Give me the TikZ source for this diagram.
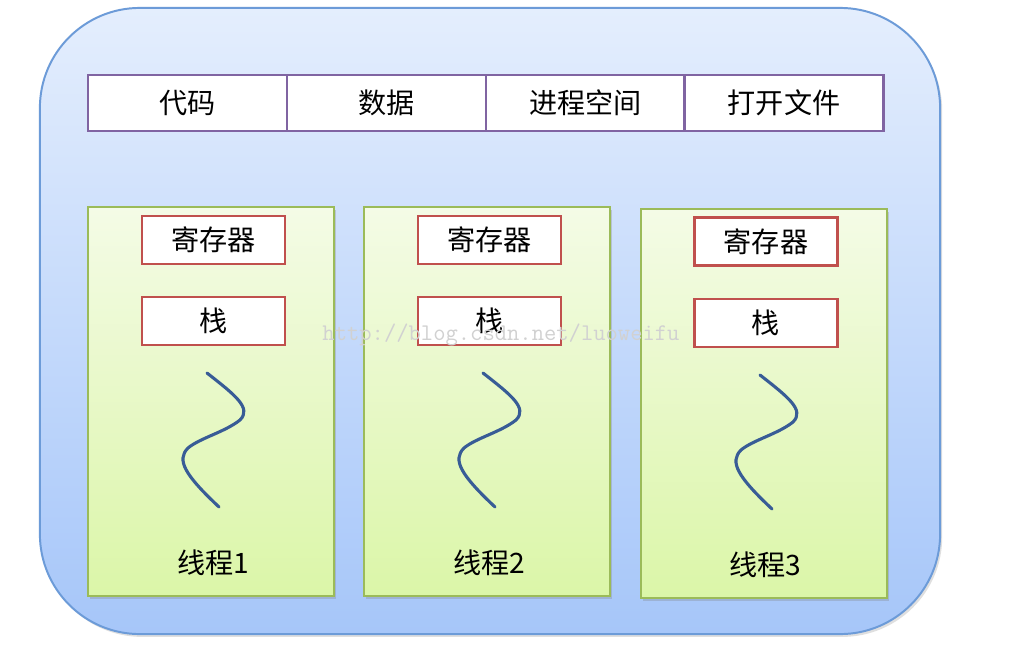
\documentclass[tikz,border=0pt]{standalone}
\usepackage{fontspec}
\setmainfont{Noto Sans CJK SC}
\usepackage{tikz}
\usetikzlibrary{shadows}
\usepackage{xcolor}
\definecolor{procline}{RGB}{108,155,216}
\definecolor{proctop}{RGB}{228,238,253}
\definecolor{procbot}{RGB}{166,198,249}
\definecolor{cellline}{RGB}{128,100,162}
\definecolor{thline}{RGB}{155,187,89}
\definecolor{thtop}{RGB}{244,251,230}
\definecolor{thbot}{RGB}{219,246,168}
\definecolor{regline}{RGB}{192,80,77}
\definecolor{waveblue}{RGB}{56,92,150}
\newcommand{\cnfont}{\fontsize{20}{24}\selectfont}

\begin{document}
\begin{tikzpicture}[
  x=0.025cm, y=-0.025cm,
  proc/.style={draw=procline, line width=1.4pt, rounded corners=2.5cm, top color=proctop, bottom color=procbot,
    minimum width=22.5cm, minimum height=15.65cm, drop shadow={shadow xshift=1.5pt, shadow yshift=-2pt, opacity=0.25}},
  cell/.style={draw=cellline, line width=2pt, fill=white, minimum width=4.975cm, minimum height=1.4cm, font=\cnfont},
  thread/.style={draw=thline, line width=1.2pt, top color=thtop, bottom color=thbot, minimum width=6.15cm, minimum height=9.725cm,
    drop shadow={shadow xshift=1.5pt, shadow yshift=-2pt, opacity=0.3}},
  reg/.style={draw=regline, line width=2pt, fill=white, minimum width=3.575cm, minimum height=1.2cm, font=\cnfont},
  lbl/.style={font=\cnfont},
  wmark/.style={font=\ttfamily\fontsize{17}{20}\selectfont, text=black!18},
  threadwave/.pic={
    \draw[waveblue, line width=2.2pt, line cap=round] (-4,-28.5) .. controls (24,-6.5) and (41,6.5) .. (29,18.5)
      .. controls (14,30.5) and (-11,36.5) .. (-23,46.5) .. controls (-35,58.5) and (-26,73.5) .. (8,105.5);
  },
]
\useasboundingbox[fill=white] (0,0) rectangle (1013,670);
\node[proc] (proc) at (490,321) {};
% shared part
\node[cell] (code) at (187.5,103) {代码};
\node[cell] (data) at (386.5,103) {数据};
\node[cell] (space) at (585.5,103) {进程空间};
\node[cell] (files) at (784,103) {打开文件};
% threads
\node[thread] (th1) at (211,401.5) {};
\node[thread] (th2) at (487,401.5) {};
\node[thread] (th3) at (764,403.5) {};
\node[reg] (reg1) at (213.5,240) {寄存器};
\node[reg] (stk1) at (213.5,321) {栈};
\node[reg] (reg2) at (489.5,240) {寄存器};
\node[reg] (stk2) at (489.5,321) {栈};
\node[reg] (reg3) at (766,241.5) {寄存器};
\node[reg] (stk3) at (766,323) {栈};
\pic at (th1.center) {threadwave};
\pic at (th2.center) {threadwave};
\pic at (th3.center) {threadwave};
\node[lbl] (name1) at (213,563) {线程1};
\node[lbl] (name2) at (489,563) {线程2};
\node[lbl] (name3) at (765,565) {线程3};
\node[wmark] (wm) at (501,335) {http://blog.csdn.net/luoweifu};
\end{tikzpicture}
\end{document}
